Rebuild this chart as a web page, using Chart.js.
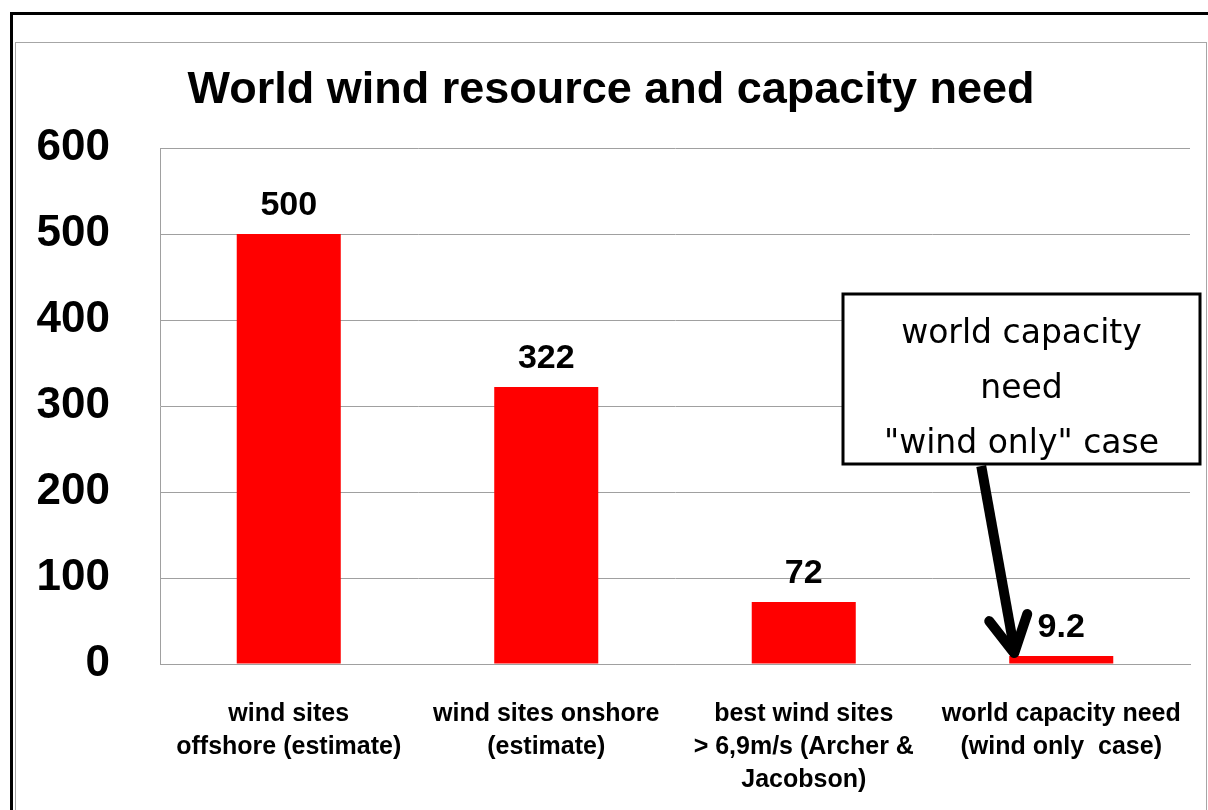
<!DOCTYPE html>
<html>
<head>
<meta charset="utf-8">
<script src="https://cdn.jsdelivr.net/npm/chart.js@4.4.1/dist/chart.umd.min.js"></script>
<style>
  html, body { margin: 0; padding: 0; background: #ffffff; overflow: hidden; }
  #outer { position: absolute; left: 10px; top: 12px; width: 1400px; height: 1000px; border: 3px solid #000; }
  #inner { position: absolute; left: 15px; top: 42px; width: 1190px; height: 1000px; border: 1px solid #a6a6a6; }
  #wrap { position: absolute; left: 0; top: 0; width: 1208px; height: 810px; }
  canvas { display: block; }
</style>
</head>
<body>
<div id="outer"></div>
<div id="inner"></div>
<div id="wrap"><canvas id="c" width="1208" height="810"></canvas></div>
<script>
// ---- data ----
const chartTitle = "World wind resource and capacity need";
const categories = [
  ["wind sites", "offshore (estimate)"],
  ["wind sites onshore", "(estimate)"],
  ["best wind sites", "> 6,9m/s (Archer &", "Jacobson)"],
  ["world capacity need", "(wind only  case)"]
];
const values = [500, 322, 72, 9.2];
const valueLabels = ["500", "322", "72", "9.2"];
const yTicks = [0, 100, 200, 300, 400, 500, 600];
const calloutLines = ["world capacity", "need", "\"wind only\" case"];

const BOLD = "'Liberation Sans', Arial, sans-serif";

const valueLabelPlugin = {
  id: 'valueLabels',
  afterDatasetsDraw(chart) {
    const ctx = chart.ctx;
    const meta = chart.getDatasetMeta(0);
    ctx.save();
    ctx.font = "bold 34px " + BOLD;
    ctx.fillStyle = "#000";
    ctx.textAlign = "center";
    ctx.textBaseline = "alphabetic";
    meta.data.forEach((bar, i) => {
      ctx.fillText(valueLabels[i], bar.x, bar.y - 19);
    });
    ctx.restore();
  }
};

const calloutPlugin = {
  id: 'callout',
  afterDraw(chart) {
    const ctx = chart.ctx;
    const meta = chart.getDatasetMeta(0);
    const bar = meta.data[3];
    const tipX = bar.x - bar.width / 2 + 5;
    const tipY = bar.y - 3;
    const ca = chart.chartArea;
    const bx = ca.right - 347, by = ca.top + 146, bw = 357, bh = 170;
    ctx.save();
    // arrow
    ctx.strokeStyle = "#000";
    ctx.lineWidth = 10;
    ctx.lineCap = "butt";
    ctx.lineJoin = "miter";
    const sx = tipX - 33, sy = by + bh + 2;
    ctx.beginPath();
    ctx.moveTo(sx, sy);
    ctx.lineTo(tipX, tipY - 4);
    ctx.stroke();
    ctx.lineJoin = "round";
    ctx.lineCap = "round";
    ctx.beginPath();
    ctx.moveTo(tipX - 25, tipY - 32);
    ctx.lineTo(tipX, tipY);
    ctx.lineTo(tipX + 13, tipY - 39);
    ctx.stroke();
    // box
    ctx.fillStyle = "#fff";
    ctx.fillRect(bx, by, bw, bh);
    ctx.lineWidth = 3;
    ctx.lineJoin = "miter";
    ctx.strokeRect(bx, by, bw, bh);
    // text
    ctx.fillStyle = "#000";
    ctx.font = "33px 'DejaVu Sans', sans-serif";
    ctx.textAlign = "center";
    ctx.textBaseline = "alphabetic";
    calloutLines.forEach((t, i) => {
      ctx.fillText(t, bx + bw / 2, by + 49 + i * 55);
    });
    ctx.restore();
  }
};

new Chart(document.getElementById('c'), {
  type: 'bar',
  data: {
    labels: categories,
    datasets: [{
      data: values,
      backgroundColor: '#ff0000',
      borderWidth: 0,
      categoryPercentage: 1.0,
      barPercentage: 0.404
    }]
  },
  plugins: [valueLabelPlugin, calloutPlugin],
  options: {
    responsive: false,
    devicePixelRatio: 1,
    animation: false,
    layout: { padding: { left: 32, right: 18, top: 0, bottom: 16 } },
    plugins: {
      legend: { display: false },
      tooltip: { enabled: false },
      title: {
        display: true,
        text: chartTitle,
        color: '#000',
        font: { family: BOLD, size: 45, weight: 'bold', lineHeight: 1.2 },
        padding: { top: 64, bottom: 30 }
      }
    },
    scales: {
      x: {
        afterFit(scale) { scale.height = 130; scale.paddingLeft = 0; scale.paddingRight = 0; },
        grid: { display: false, drawTicks: false },
        border: { display: true, color: '#a0a0a0', width: 1 },
        ticks: {
          color: '#000',
          font: { family: BOLD, size: 25, weight: 'bold', lineHeight: 1.32 },
          padding: 34,
          maxRotation: 0,
          minRotation: 0,
          autoSkip: false
        }
      },
      y: {
        min: 0,
        max: 600,
        afterBuildTicks(scale) { scale.ticks = yTicks.map(v => ({ value: v })); },
        afterFit(scale) { scale.width = 128; },
        grid: { color: '#a0a0a0', lineWidth: 1, drawTicks: false },
        border: { display: true, color: '#a0a0a0', width: 1 },
        ticks: {
          color: '#000',
          font: { family: BOLD, size: 44, weight: 'bold' },
          padding: 50
        }
      }
    }
  }
});
</script>
</body>
</html>
